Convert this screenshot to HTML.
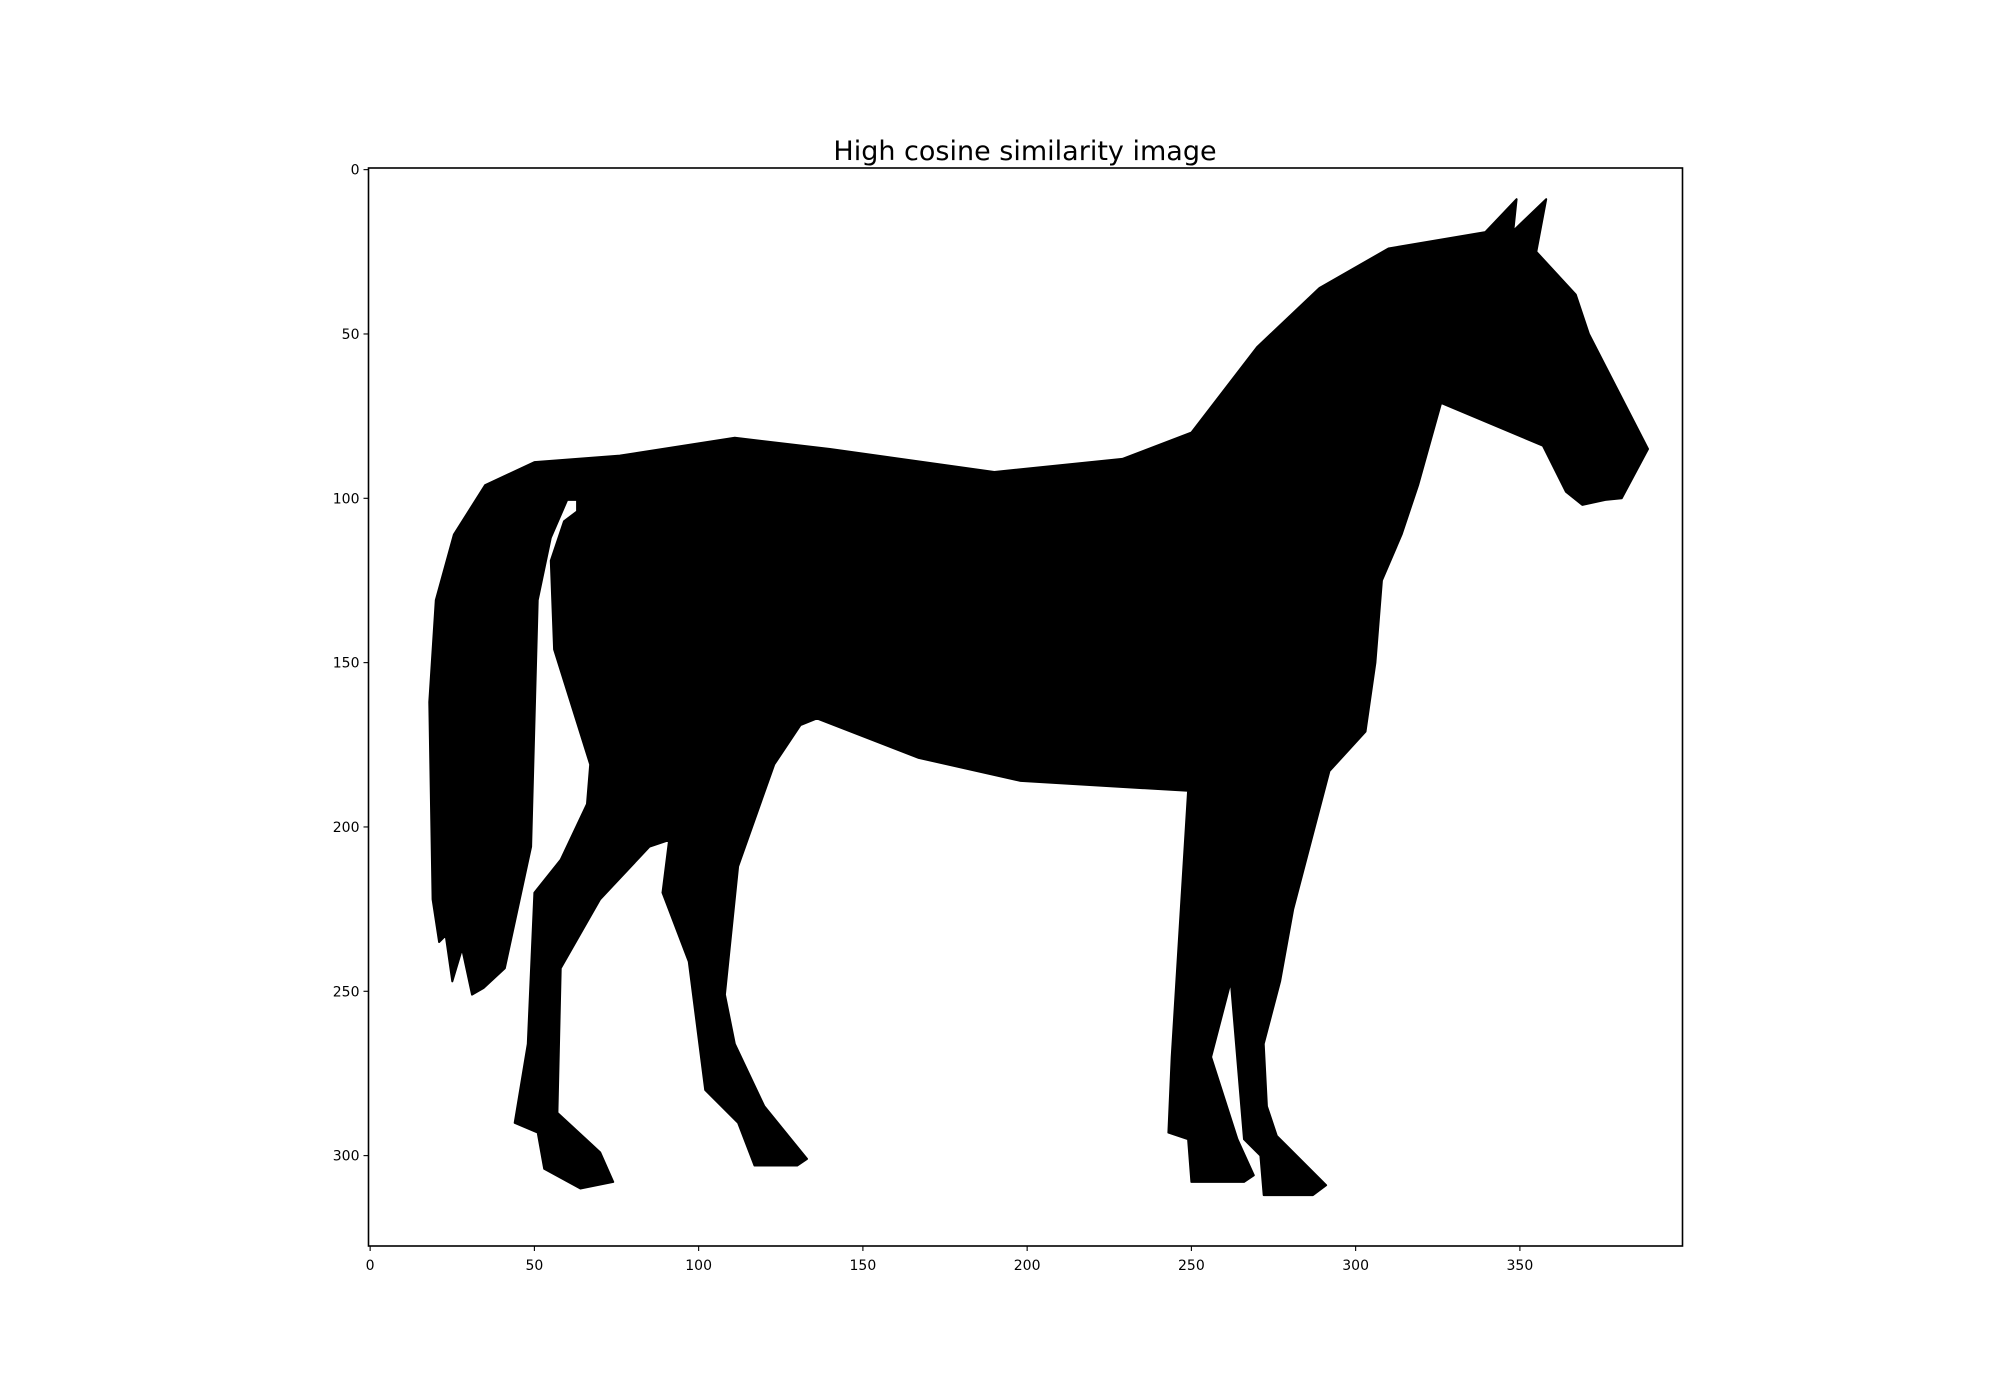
<!DOCTYPE html>
<html><head><meta charset="utf-8"><style>
html,body{margin:0;padding:0;background:#fff;}
svg{display:block;}
text{font-family:"DejaVu Sans","Liberation Sans",sans-serif;fill:#000;}
</style></head><body>
<svg id="chart" width="2000" height="1400" viewBox="0 0 2000 1400">
<rect width="2000" height="1400" fill="#fff"/>
<text x="1025" y="160" font-size="27" text-anchor="middle">High cosine similarity image</text>
<g id="plot"></g>
</svg>
<script>
const xTicks = [0,50,100,150,200,250,300,350];
const yTicks = [0,50,100,150,200,250,300];
const imgW = 400, imgH = 328;
// horse silhouette outline in image (pixel) coordinates
const outlineX = [50,76,111,140,190,229,250,270,289,310,339.5,349,348,358,355,367,371,389,381,376,369,364,357,326,319,314,308,306,303,292,281,277,272,273,276,289,291,287,272,271,266,262,256,264,269,266,250,249,243,244,249,198,167,136,131,123,112,108,111,120,133,130,117,112,102,97,89,91,85,70,58,57,70,74,64,53,51,44,48,50,58,66,67,56,55,59,63,63,60,55,51,49,41,34.5,31,28,25,23,21,19,18,20,25.5,35];
const outlineY = [89,87,81.6,85,92,88,80,54,36,24,19,9,18.6,9,25,38,50,85,100,100.5,102,98,84,71,96,111,125,150,171,183,225,247,266,285,294,307,309,312,312,300,295,247,270,295,306,308,308,295,293,270,189,186,179,167,169,181,212,251,266,285,301,303,303,290,280,241,220,204,206,222,243,287,299,308,310,304,293,290,266,220,210,193,181,146,119,107,104,100.5,100.5,112,131,206,243,249,251,237,247,233,235,222,162,131,111,96];

const L=368.5, R=1682.5, T=168, B=1246;
const sx = (R-L)/imgW, sy=(B-T)/imgH;
const xs = v => L + (v+0.5)*sx;
const ys = v => T + (v+0.5)*sy;
const NS="http://www.w3.org/2000/svg";
const plot=document.getElementById('plot');
function mk(tag, attrs){const e=document.createElementNS(NS,tag);for(const k in attrs)e.setAttribute(k,attrs[k]);return e;}

const bg=mk('rect',{x:L,y:T,width:R-L,height:B-T,fill:'#fff'});


plot.appendChild(bg);

let d='';
for(let i=0;i<outlineX.length;i++){d+=(i?'L':'M')+xs(outlineX[i]).toFixed(1)+','+ys(outlineY[i]).toFixed(1);}
d+='Z';
const horse=mk('path',{d:d,fill:'#000',stroke:'#000','stroke-width':2,'stroke-linejoin':'round'});


plot.appendChild(horse);

const frame=mk('rect',{x:L,y:T,width:R-L,height:B-T,fill:'none',stroke:'#000','stroke-width':1.6});


plot.appendChild(frame);

xTicks.forEach(v=>{
  const x=xs(v);
  const t=mk('line',{x1:x,y1:B,x2:x,y2:B+5,stroke:'#000','stroke-width':1.1});
  
  
  plot.appendChild(t);
  const lb=mk('text',{x:x,y:B+24,'font-size':14,'text-anchor':'middle'});
  lb.textContent=v;
  
  
  plot.appendChild(lb);
});
yTicks.forEach(v=>{
  const y=ys(v);
  const t=mk('line',{x1:L-5,y1:y,x2:L,y2:y,stroke:'#000','stroke-width':1.1});
  
  
  plot.appendChild(t);
  const lb=mk('text',{x:L-9,y:y+5,'font-size':14,'text-anchor':'end'});
  lb.textContent=v;
  
  
  plot.appendChild(lb);
});
</script>
</body></html>
